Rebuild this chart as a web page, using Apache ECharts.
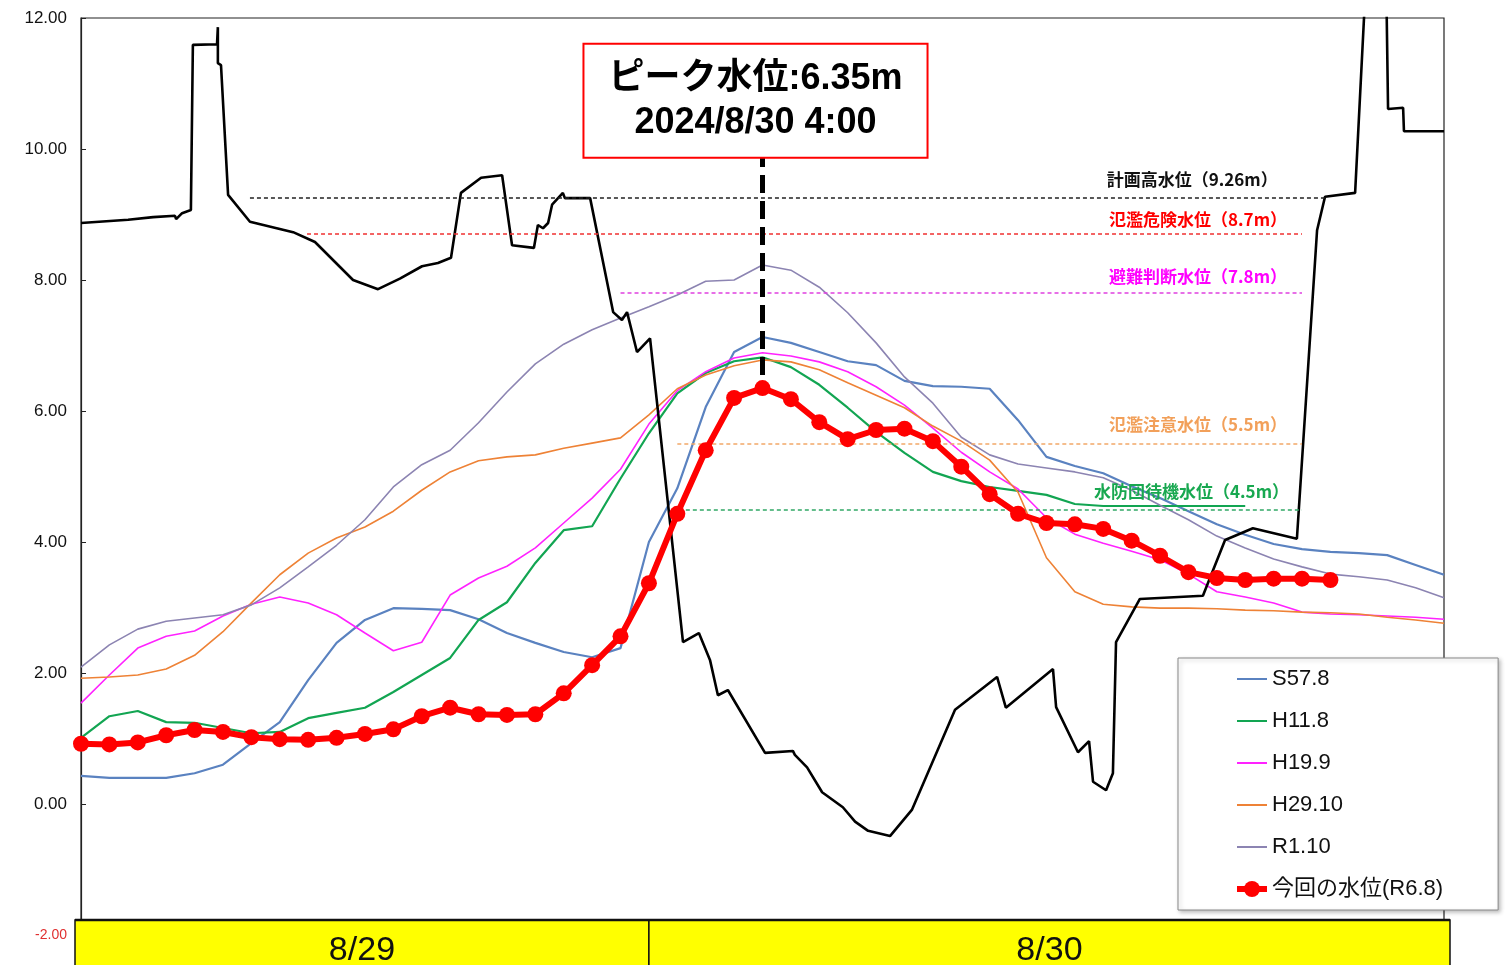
<!DOCTYPE html>
<html><head><meta charset="utf-8">
<script src="https://cdn.jsdelivr.net/npm/echarts@6/dist/echarts.min.js"></script>
<style>html,body{margin:0;padding:0;background:#fff}#c{width:1509px;height:965px}</style>
</head><body><div id="c"></div>
<script>
// hourly time axis: 8/29 4:00 .. 8/31 4:00
const timeLabels = [
 '8/29 4:00','8/29 5:00','8/29 6:00','8/29 7:00','8/29 8:00','8/29 9:00','8/29 10:00','8/29 11:00','8/29 12:00','8/29 13:00',
 '8/29 14:00','8/29 15:00','8/29 16:00','8/29 17:00','8/29 18:00','8/29 19:00','8/29 20:00','8/29 21:00','8/29 22:00','8/29 23:00',
 '8/30 0:00','8/30 1:00','8/30 2:00','8/30 3:00','8/30 4:00','8/30 5:00','8/30 6:00','8/30 7:00','8/30 8:00','8/30 9:00',
 '8/30 10:00','8/30 11:00','8/30 12:00','8/30 13:00','8/30 14:00','8/30 15:00','8/30 16:00','8/30 17:00','8/30 18:00','8/30 19:00',
 '8/30 20:00','8/30 21:00','8/30 22:00','8/30 23:00','8/31 0:00','8/31 1:00','8/31 2:00','8/31 3:00','8/31 4:00'];
const dayLabels = ['8/29', '8/30'];
const dayStartLabels = ['8/29 4:00', '8/30 0:00'];

const seriesNames = ['S57.8', 'H11.8', 'H19.9', 'H29.10', 'R1.10', '今回の水位(R6.8)'];
const S57_8 = [0.43,0.40,0.40,0.40,0.47,0.60,0.93,1.25,1.89,2.46,2.81,2.99,2.98,2.96,2.82,2.61,2.46,2.32,2.24,2.38,4.00,4.82,6.06,6.90,7.13,7.04,6.90,6.76,6.70,6.46,6.38,6.37,6.34,5.86,5.30,5.16,5.05,4.85,4.67,4.47,4.27,4.11,3.97,3.89,3.85,3.83,3.80,3.65,3.50];
const H11_8 = [1.01,1.34,1.42,1.25,1.24,1.16,1.08,1.10,1.31,1.39,1.47,1.71,1.97,2.23,2.81,3.08,3.68,4.18,4.24,4.97,5.66,6.27,6.58,6.76,6.82,6.67,6.40,6.05,5.68,5.36,5.07,4.93,4.84,4.78,4.72,4.58,4.55,4.55,4.55,4.55,4.55,4.55];
const H19_9 = [1.54,1.97,2.38,2.56,2.64,2.87,3.05,3.16,3.07,2.89,2.61,2.34,2.47,3.19,3.45,3.63,3.91,4.29,4.67,5.11,5.80,6.31,6.60,6.81,6.89,6.84,6.75,6.60,6.37,6.09,5.74,5.37,5.07,4.81,4.37,4.12,3.98,3.86,3.73,3.51,3.24,3.16,3.07,2.93,2.90,2.89,2.87,2.85,2.82];
const H29_10 = [1.92,1.94,1.97,2.06,2.27,2.63,3.07,3.50,3.83,4.06,4.23,4.47,4.79,5.07,5.24,5.30,5.33,5.43,5.51,5.59,5.94,6.34,6.55,6.69,6.78,6.75,6.63,6.43,6.24,6.05,5.77,5.54,5.25,4.76,3.76,3.24,3.05,3.01,2.99,2.99,2.98,2.96,2.95,2.93,2.92,2.90,2.85,2.81,2.76];
const R1_10 = [2.09,2.43,2.67,2.79,2.84,2.89,3.04,3.30,3.62,3.95,4.34,4.84,5.18,5.40,5.82,6.29,6.72,7.02,7.24,7.42,7.59,7.77,7.98,8.00,8.23,8.15,7.89,7.50,7.04,6.52,6.12,5.60,5.33,5.19,5.13,5.07,4.98,4.79,4.56,4.34,4.09,3.91,3.74,3.62,3.51,3.47,3.42,3.30,3.15];
const R6_8 = [0.92,0.91,0.94,1.05,1.13,1.10,1.02,0.99,0.98,1.01,1.07,1.14,1.34,1.47,1.37,1.36,1.37,1.69,2.12,2.56,3.37,4.43,5.40,6.20,6.35,6.18,5.83,5.57,5.71,5.73,5.54,5.15,4.73,4.43,4.29,4.27,4.20,4.02,3.79,3.54,3.45,3.42,3.44,3.44,3.42];

// river cross-section profile (horizontal position in the same 0..48 span, elevation in m)
const profileX = [0.00,1.66,2.54,3.31,3.35,3.56,3.87,3.94,4.79,4.82,4.82,4.93,5.18,5.95,7.47,8.24,9.58,10.46,11.23,12.01,12.57,13.03,13.38,14.09,14.83,15.18,15.95,16.09,16.27,16.45,16.59,16.97,17.04,17.93,18.74,19.05,19.23,19.58,20.04,21.20,21.76,22.15,22.43,22.78,24.09,25.07,25.14,25.57,26.10,26.83,27.26,27.72,28.49,29.26,30.78,32.26,32.57,34.23,34.34,35.11,35.50,35.64,36.10,36.34,36.45,37.29,39.51,40.29,41.27,42.82,43.53,43.81,44.87,45.30,45.95,46.03,46.56,46.59,48.00];
const profileY = [8.87,8.92,8.96,8.98,8.93,9.02,9.07,11.59,11.60,11.86,11.31,11.28,9.30,8.89,8.73,8.58,8.00,7.86,8.02,8.21,8.26,8.34,9.33,9.56,9.60,8.53,8.49,8.84,8.79,8.87,9.15,9.33,9.25,9.25,7.51,7.39,7.51,6.90,7.11,2.47,2.61,2.20,1.66,1.74,0.78,0.81,0.75,0.56,0.18,-0.05,-0.27,-0.41,-0.49,-0.09,1.44,1.94,1.47,2.06,1.48,0.79,0.96,0.34,0.21,0.47,2.47,3.13,3.18,4.03,4.21,4.05,8.76,9.27,9.33,13.0,13.0,10.61,10.63,10.27,10.27];

const thresholdNames = ['計画高水位（9.26m）', '氾濫危険水位（8.7m）', '避難判断水位（7.8m）', '氾濫注意水位（5.5m）', '水防団待機水位（4.5m）'];
const thresholdValues = [9.26, 8.7, 7.8, 5.5, 4.5];
const peakText = ['ピーク水位:6.35m', '2024/8/30 4:00'];
const peakIndex = 24;

const chart = echarts.init(document.getElementById('c'), null, {renderer: 'canvas'});
const CJK = "'Noto Sans CJK JP', sans-serif";
const NARROW = "'Liberation Sans Narrow', 'Liberation Sans', 'Noto Sans CJK JP', sans-serif";

const thrStyle = [
  {color: '#222', text: '#111', from: 5.95, to: 43.8, dist: [47, 9]},
  {color: '#F03030', text: '#FF0000', from: 7.96, to: 43.0, dist: [15, 6]},
  {color: '#E040E0', text: '#FF00FF', from: 19.0, to: 43.0, dist: [15, 8]},
  {color: '#F2A868', text: '#F2A05A', from: 21.0, to: 43.0, dist: [15, 11]},
  {color: '#30A865', text: '#18A850', from: 21.3, to: 43.0, dist: [13, 9]}
];
const thresholdLines = thresholdValues.map((v, i) => [
  {coord: [thrStyle[i].from, v], name: thresholdNames[i],
   lineStyle: {color: thrStyle[i].color, type: [4, 3], width: 1.5},
   label: {show: true, formatter: thresholdNames[i], position: 'insideEndTop', distance: thrStyle[i].dist,
           color: thrStyle[i].text, fontFamily: CJK, fontWeight: 'bold', fontSize: 17}},
  {coord: [thrStyle[i].to, v]}
]);

function thin(name, data, color, width) {
  return {name, type: 'line', data, xAxisIndex: 0, yAxisIndex: 0, symbol: 'none', showSymbol: false,
    lineStyle: {color, width}, itemStyle: {color}, z: 2, animation: false};
}

const legendData = seriesNames.map((n, i) => i < 5
  ? {name: n, itemStyle: {opacity: 0}, lineStyle: {width: 2}}
  : {name: n, lineStyle: {width: 6, color: '#FF0000'}, itemStyle: {color: '#FF0000'}});

const option = {
  animation: false,
  backgroundColor: '#fff',
  grid: {left: 81, right: 65, top: 18, bottom: 30, show: true, borderColor: '#222', borderWidth: 1.2, backgroundColor: 'transparent'},
  xAxis: [
    {type: 'category', data: timeLabels, boundaryGap: false, axisLine: {show: false}, axisTick: {show: false}, axisLabel: {show: false}, splitLine: {show: false}},
    {type: 'value', min: 0, max: 48, show: false}
  ],
  yAxis: {
    type: 'value', min: -2, max: 12, interval: 2,
    axisLine: {show: true, lineStyle: {color: '#222', width: 1.2}},
    axisTick: {show: true, inside: true, length: 5, lineStyle: {color: '#222'}},
    splitLine: {show: false},
    axisLabel: {
      margin: 14, color: '#111', fontSize: 17, fontFamily: NARROW,
      formatter: v => v === -2 ? '{neg|' + v.toFixed(2) + '}' : v.toFixed(2),
      rich: {neg: {color: '#E03030', fontSize: 14, fontFamily: NARROW}}
    }
  },
  legend: {
    orient: 'vertical', left: 1178, top: 658,
    data: legendData,
    itemWidth: 30, itemHeight: 20, itemGap: 20,
    padding: [10, 55, 10, 56],
    backgroundColor: '#fff', borderColor: '#888', borderWidth: 1,
    shadowColor: 'rgba(0,0,0,0.25)', shadowBlur: 4, shadowOffsetX: 2, shadowOffsetY: 2,
    textStyle: {color: '#111', fontSize: 22, fontFamily: NARROW},
    selectedMode: false
  },
  series: [
    thin(seriesNames[0], S57_8, '#5A82C0', 2.2),
    thin(seriesNames[1], H11_8, '#12A552', 2.2),
    thin(seriesNames[2], H19_9, '#FF22FF', 1.6),
    thin(seriesNames[3], H29_10, '#EE8236', 1.6),
    thin(seriesNames[4], R1_10, '#8C84B2', 1.6),
    {
      name: 'cross-section', type: 'line', xAxisIndex: 1, yAxisIndex: 0,
      data: profileX.map((x, i) => [x, profileY[i]]),
      symbol: 'none', showSymbol: false, clip: true,
      lineStyle: {color: '#000', width: 2.6}, z: 3, silent: true,
      markLine: {symbol: 'none', silent: true, animation: false, data: thresholdLines}
    },
    {
      name: seriesNames[5], type: 'line', data: R6_8, xAxisIndex: 0, yAxisIndex: 0,
      symbol: 'circle', symbolSize: 16, showSymbol: true,
      lineStyle: {color: '#FF0000', width: 6}, itemStyle: {color: '#FF0000'}, z: 5,
      markLine: {
        symbol: 'none', silent: true, animation: false,
        data: [[
          {coord: [timeLabels[peakIndex], R6_8[peakIndex] + 0.2],
           lineStyle: {color: '#000', width: 5, type: [18, 8]},
           label: {show: true, position: 'end', distance: 0, offset: [-7, 0],
             formatter: peakText.join('\n'),
             color: '#000', fontSize: 36, fontWeight: 'bold', lineHeight: 44,
             fontFamily: "'Liberation Sans', 'Noto Sans CJK JP', sans-serif",
             backgroundColor: '#fff', borderColor: '#FF0000', borderWidth: 2,
             padding: [12, 24, 12, 24], align: 'center'}},
          {coord: [timeLabels[peakIndex], R6_8[peakIndex] + 3.53]}
        ]]
      }
    }
  ]
};
chart.setOption(option);

// yellow date band under the plot, placed from the axis scales
function drawBand() {
  const px = lbl => chart.convertToPixel({xAxisIndex: 0}, lbl);
  const yBottom = chart.convertToPixel({yAxisIndex: 0}, -2);
  const xL = px(timeLabels[0]) - 6;
  const xR = px(timeLabels[timeLabels.length - 1]) + 6;
  const edges = [xL, px(dayStartLabels[1]), xR];
  const top = yBottom - 15;
  const g = [];
  for (let i = 0; i < dayLabels.length; i++) {
    g.push({type: 'rect', shape: {x: edges[i], y: top, width: edges[i + 1] - edges[i], height: 60},
      style: {fill: '#FFFF00', stroke: '#111', lineWidth: 1.5}, z: 10});
    g.push({type: 'text', x: (edges[i] + edges[i + 1]) / 2, y: top + 31,
      style: {text: dayLabels[i], fill: '#111', font: "34px 'Liberation Sans Narrow', 'Liberation Sans', sans-serif",
              align: 'center', verticalAlign: 'middle'}, z: 11});
  }
  g.push({type: 'line', shape: {x1: xL, y1: top, x2: xR, y2: top}, style: {stroke: '#111', lineWidth: 2.5}, z: 12});
  chart.setOption({graphic: g});
}
drawBand();
</script>
</body></html>
